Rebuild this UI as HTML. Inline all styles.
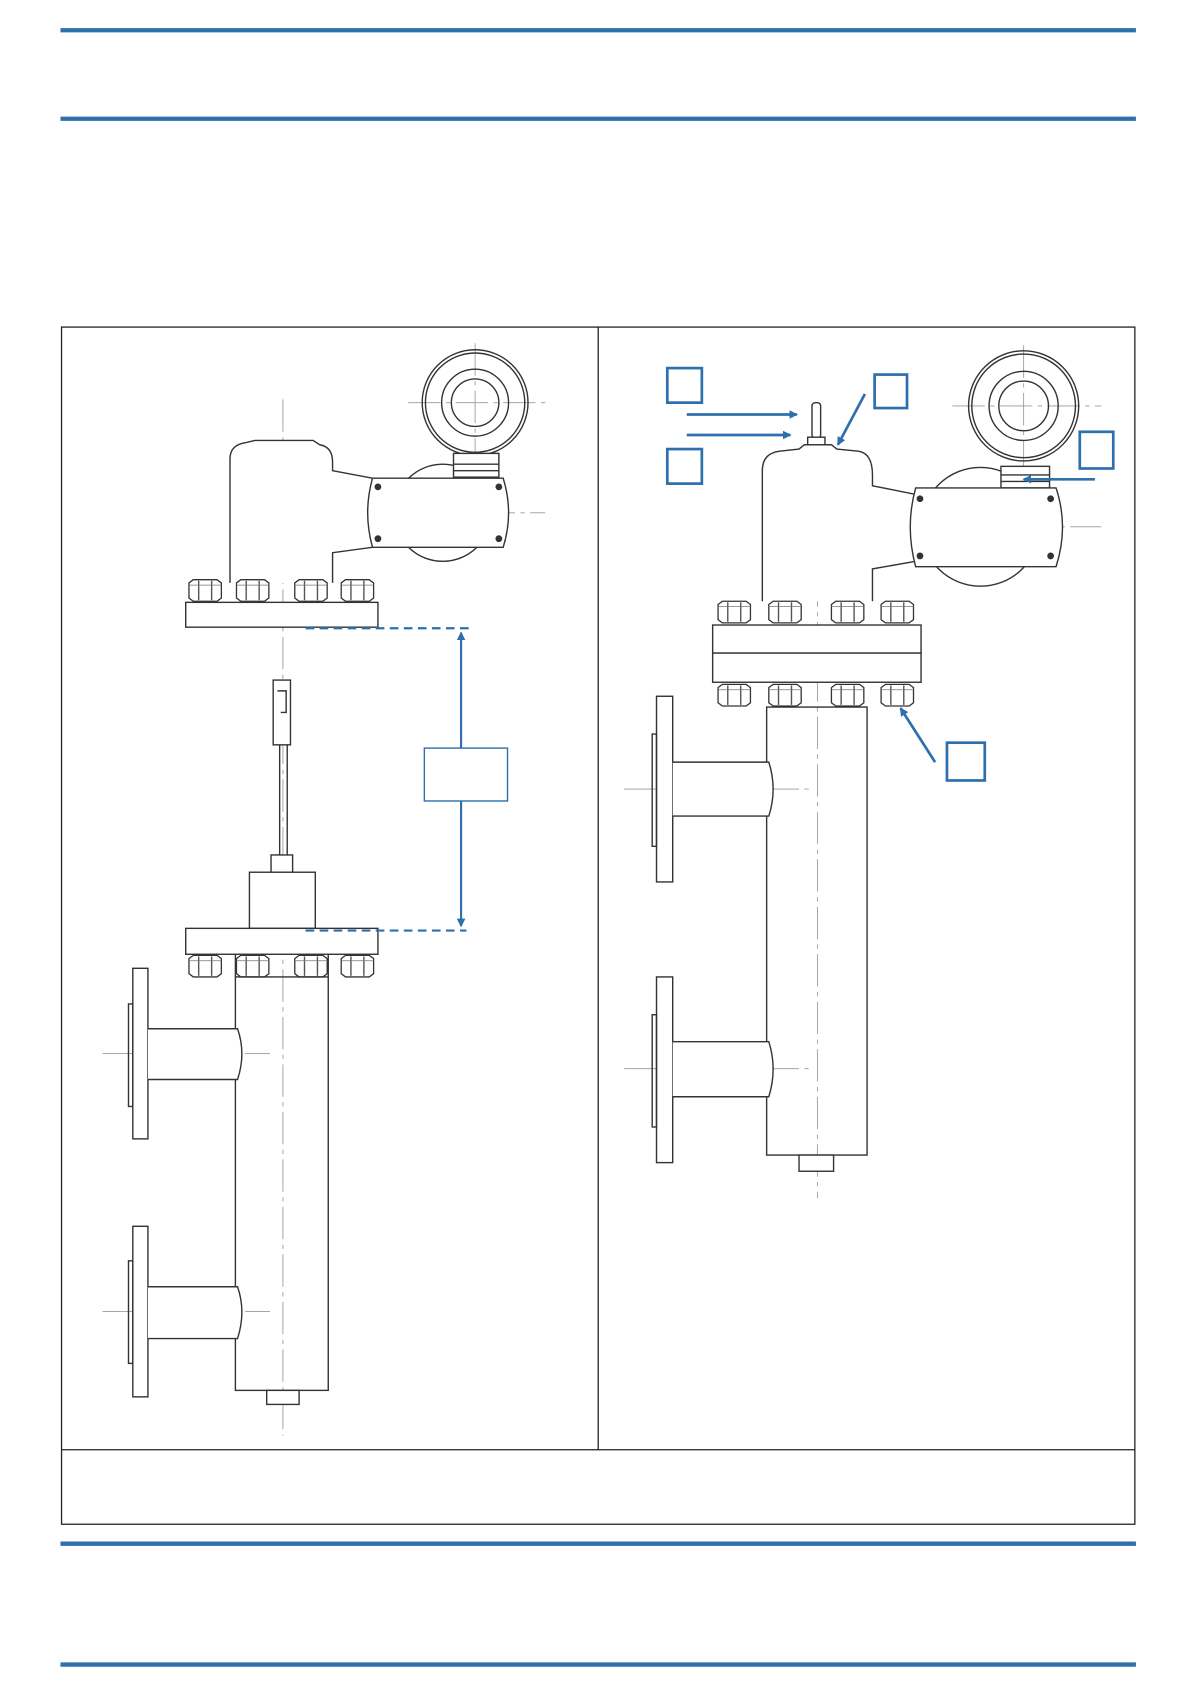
<!DOCTYPE html>
<html><head><meta charset="utf-8"><style>
html,body{margin:0;padding:0;background:#fff;}
svg{display:block;}
</style></head><body>
<svg width="1191" height="1684" viewBox="0 0 1103 1560" preserveAspectRatio="none" xmlns="http://www.w3.org/2000/svg">
<defs>
<marker id="ah" markerWidth="8" markerHeight="8" refX="7" refY="4" orient="auto" markerUnits="userSpaceOnUse"><path d="M0,0 L8,4 L0,8 z" fill="#2e6fad"/></marker>
<marker id="ah2" markerWidth="8" markerHeight="8" refX="1" refY="4" orient="auto" markerUnits="userSpaceOnUse"><path d="M8,0 L0,4 L8,8 z" fill="#2e6fad"/></marker>
<g id="nut"><path d="M2,3 L6,0 L28,0 L32,3 L32,17 L28,20 L6,20 L2,17 z" fill="#fff" stroke="#333" stroke-width="1.2"/><line x1="11" y1="1" x2="11" y2="19" stroke="#555"/><line x1="23" y1="1" x2="23" y2="19" stroke="#555"/><line x1="2" y1="5" x2="32" y2="5" stroke="#777" stroke-width="0.7"/></g>
</defs>
<g stroke="#2e6fad" stroke-width="4">
<line x1="56" y1="28" x2="1052" y2="28"/><line x1="56" y1="110" x2="1052" y2="110"/>
<line x1="56" y1="1430" x2="1052" y2="1430"/><line x1="56" y1="1542" x2="1052" y2="1542"/>
</g>
<g fill="none" stroke="#222" stroke-width="1.2">
<rect x="57" y="303" width="994" height="1109"/><line x1="554" y1="303" x2="554" y2="1343"/><line x1="57" y1="1343" x2="1051" y2="1343"/>
</g>

<!-- LEFT -->
<g fill="none" stroke="#333" stroke-width="1.3">
<g stroke="#999" stroke-width="0.8" stroke-dasharray="30,5,4,5">
<line x1="262" y1="370" x2="262" y2="1330"/><line x1="378" y1="373" x2="505" y2="373"/><line x1="440" y1="318" x2="440" y2="500"/>
<line x1="315" y1="475" x2="505" y2="475"/><line x1="95" y1="976" x2="250" y2="976"/><line x1="95" y1="1215" x2="250" y2="1215"/>
</g>
<circle cx="410" cy="475" r="45"/>
<circle cx="440" cy="373" r="49"/><circle cx="440" cy="373" r="46"/><circle cx="440" cy="373" r="31"/><circle cx="440" cy="373" r="22"/>
<rect x="420" y="420" width="42" height="22" fill="#fff"/><line x1="420" y1="430" x2="462" y2="430"/><line x1="420" y1="436" x2="462" y2="436"/>
<path d="M213,540 L213,425 Q213,412 228,410 L236,408 L290,408 L296,412 Q308,414 308,428 L308,436 L345,443 L345,507 L308,512 L308,540" fill="#fff"/>
<path d="M345,443 L466,443 Q476,475 466,507 L345,507 Q336,475 345,443 z" fill="#fff"/>
<g fill="#333"><circle cx="350" cy="451" r="2.5"/><circle cx="462" cy="451" r="2.5"/><circle cx="350" cy="499" r="2.5"/><circle cx="462" cy="499" r="2.5"/></g>
<use href="#nut" x="173" y="537"/><use href="#nut" x="217" y="537"/><use href="#nut" x="271" y="537"/><use href="#nut" x="314" y="537"/>
<rect x="172" y="558" width="178" height="23" fill="#fff"/>
<rect x="253" y="630" width="16" height="60" fill="#fff"/><path d="M257,640 L265,640 L265,660 L260,660" /><line x1="259" y1="690" x2="259" y2="795"/><line x1="266" y1="690" x2="266" y2="795"/>
<rect x="251" y="792" width="20" height="16" fill="#fff"/>
<rect x="231" y="808" width="61" height="52" fill="#fff"/>
<rect x="172" y="860" width="178" height="24" fill="#fff"/>
<use href="#nut" x="173" y="885"/><use href="#nut" x="217" y="885"/><use href="#nut" x="271" y="885"/><use href="#nut" x="314" y="885"/>
<rect x="218" y="905" width="86" height="383"/><line x1="218" y1="884" x2="218" y2="905"/><line x1="304" y1="884" x2="304" y2="905"/>
<rect x="247" y="1288" width="30" height="13" fill="#fff"/>
<rect x="123" y="897" width="14" height="158" fill="#fff"/><rect x="119" y="930" width="4" height="95"/>
<path d="M137,953 L220,953 Q228,976 220,1000 L137,1000" fill="#fff"/>
<rect x="123" y="1136" width="14" height="158" fill="#fff"/><rect x="119" y="1168" width="4" height="95"/>
<path d="M137,1192 L220,1192 Q228,1215 220,1240 L137,1240" fill="#fff"/>
</g>
<g stroke="#2e6fad" stroke-width="2" fill="none">
<line x1="283" y1="582" x2="438" y2="582" stroke-dasharray="8,5"/>
<line x1="283" y1="862" x2="432" y2="862" stroke-dasharray="8,5"/>
<line x1="427" y1="586" x2="427" y2="858" marker-start="url(#ah2)" marker-end="url(#ah)"/>
</g>
<rect x="393" y="693" width="77" height="49" fill="#fff" stroke="#2e6fad" stroke-width="1.3"/>

<!-- RIGHT -->
<g fill="none" stroke="#333" stroke-width="1.3">
<g stroke="#999" stroke-width="0.8" stroke-dasharray="30,5,4,5">
<line x1="757" y1="400" x2="757" y2="1110"/><line x1="882" y1="376" x2="1020" y2="376"/><line x1="948" y1="320" x2="948" y2="530"/>
<line x1="815" y1="488" x2="1020" y2="488"/><line x1="578" y1="731" x2="750" y2="731"/><line x1="578" y1="990" x2="750" y2="990"/>
</g>
<circle cx="908" cy="488" r="55"/>
<circle cx="948" cy="376" r="51"/><circle cx="948" cy="376" r="48"/><circle cx="948" cy="376" r="32"/><circle cx="948" cy="376" r="23"/>
<rect x="927" y="432" width="45" height="20" fill="#fff"/><line x1="927" y1="440" x2="972" y2="440"/><line x1="927" y1="446" x2="972" y2="446"/>
<path d="M706,557 L706,436 Q706,420 722,418 L740,416 L745,412 L770,412 L775,416 L795,418 Q808,420 808,440 L808,450 L848,458 L848,520 L808,527 L808,557" fill="#fff"/>
<path d="M848,452 L978,452 Q990,488 978,525 L848,525 Q838,488 848,452 z" fill="#fff"/>
<g fill="#333"><circle cx="852" cy="462" r="2.5"/><circle cx="973" cy="462" r="2.5"/><circle cx="852" cy="515" r="2.5"/><circle cx="973" cy="515" r="2.5"/></g>
<rect x="752" y="373" width="8" height="33" rx="3" fill="#fff"/><rect x="748" y="405" width="16" height="7" fill="#fff"/>
<use href="#nut" x="663" y="557"/><use href="#nut" x="710" y="557"/><use href="#nut" x="768" y="557"/><use href="#nut" x="814" y="557"/>
<rect x="660" y="579" width="193" height="26" fill="#fff"/><rect x="660" y="605" width="193" height="27" fill="#fff"/>
<use href="#nut" x="663" y="634"/><use href="#nut" x="710" y="634"/><use href="#nut" x="768" y="634"/><use href="#nut" x="814" y="634"/>
<rect x="710" y="655" width="93" height="415"/>
<rect x="740" y="1070" width="32" height="15" fill="#fff"/>
<rect x="608" y="645" width="15" height="172" fill="#fff"/><rect x="604" y="680" width="4" height="104"/>
<path d="M623,706 L712,706 Q720,731 712,756 L623,756" fill="#fff"/>
<rect x="608" y="905" width="15" height="172" fill="#fff"/><rect x="604" y="940" width="4" height="104"/>
<path d="M623,965 L712,965 Q720,990 712,1016 L623,1016" fill="#fff"/>
</g>
<g stroke="#2e6fad" stroke-width="2.5" fill="none">
<rect x="618" y="341" width="32" height="32"/><rect x="810" y="347" width="30" height="31"/><rect x="618" y="416" width="32" height="32"/>
<rect x="1000" y="400" width="31" height="34"/><rect x="877" y="688" width="35" height="35"/>
<line x1="636" y1="384" x2="738" y2="384" marker-end="url(#ah)"/>
<line x1="636" y1="403" x2="732" y2="403" marker-end="url(#ah)"/>
<line x1="801" y1="365" x2="776" y2="412" marker-end="url(#ah)"/>
<line x1="1014" y1="444" x2="948" y2="444" marker-end="url(#ah)"/>
<line x1="866" y1="706" x2="834" y2="656" marker-end="url(#ah)"/>
</g>
</svg>
</body></html>
